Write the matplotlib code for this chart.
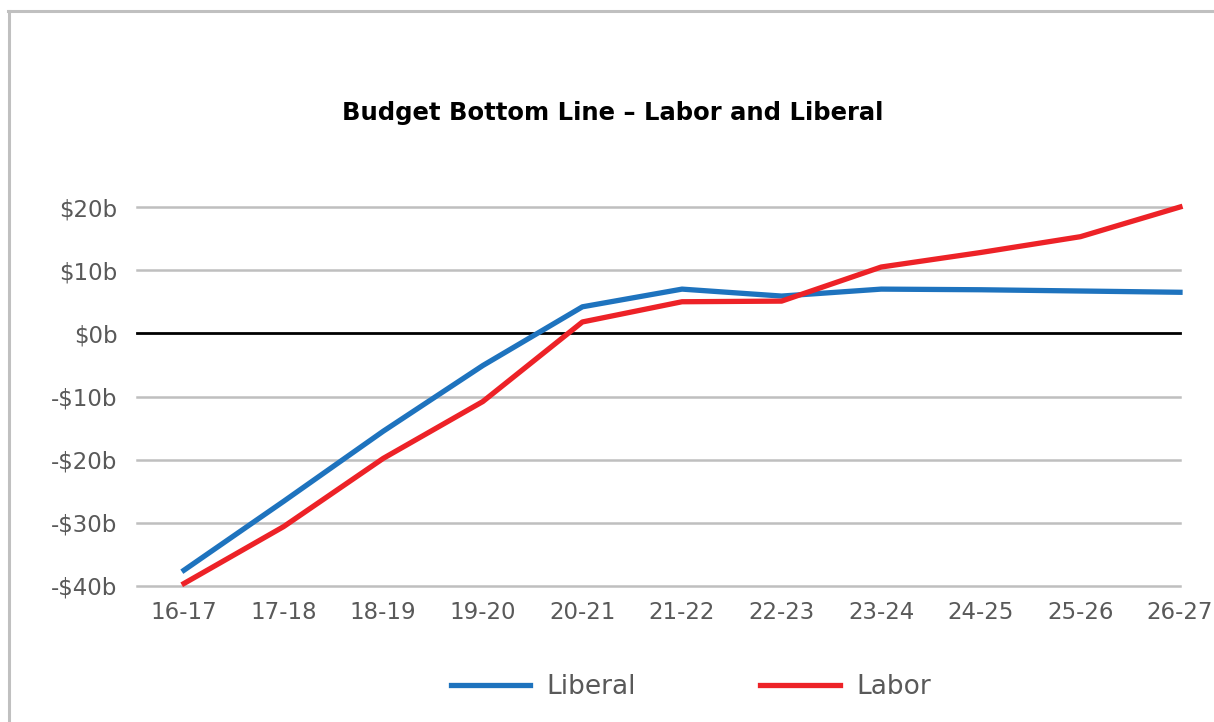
import matplotlib.pyplot as plt
from matplotlib.lines import Line2D

# Data ($ billions)
years = ["16-17", "17-18", "18-19", "19-20", "20-21", "21-22",
         "22-23", "23-24", "24-25", "25-26", "26-27"]
liberal = [-37.5, -26.6, -15.5, -5.1, 4.2, 7.0, 5.9, 7.0, 6.9, 6.7, 6.5]
labor = [-39.6, -30.6, -19.8, -10.8, 1.8, 5.0, 5.1, 10.5, 12.8, 15.3, 20.0]
y_ticks = [-40, -30, -20, -10, 0, 10, 20]

plt.rcParams["font.family"] = ["DejaVu Sans"]

fig = plt.figure(figsize=(12.14, 7.22), dpi=100)
ax = fig.add_axes([137 / 1214, 1 - 586 / 722, (1180 - 137) / 1214, (586 - 207) / 722])

x = list(range(len(years)))
ax.plot(x, liberal, color="#1E73BE", lw=3.8, label="Liberal", zorder=3, clip_on=False)
ax.plot(x, labor, color="#ED2227", lw=3.8, label="Labor", zorder=3, clip_on=False)

ax.set_xlim(-0.472, 10)
ax.set_ylim(-40, 20)
ax.set_yticks(y_ticks)
ax.set_yticklabels([f"${v}b" if v >= 0 else f"-${-v}b" for v in y_ticks])
ax.set_xticks(x)
ax.set_xticklabels(years)

for v in y_ticks:
    if v == 0:
        ax.axhline(0, color="black", lw=2.0, zorder=2, clip_on=False)
    else:
        ax.axhline(v, color="#BFBFBF", lw=1.8, zorder=1, clip_on=False)

for s in ax.spines.values():
    s.set_visible(False)
ax.tick_params(length=0, labelsize=16.5, labelcolor="#595959")
ax.tick_params(axis="y", pad=14)
ax.tick_params(axis="x", pad=11)

fig.text(0.505, 1 - 113 / 722, "Budget Bottom Line \u2013 Labor and Liberal",
         ha="center", va="center", fontsize=17.5, fontweight="bold", color="black")

fig.legend(loc="center", bbox_to_anchor=(691 / 1214, 1 - 687 / 722), ncol=2,
           frameon=False, fontsize=19, handlelength=3.0, handletextpad=0.63,
           columnspacing=4.7, labelcolor="#595959")

# outer chart frame (left and top edges visible)
fig.add_artist(Line2D([9 / 1214, 9 / 1214], [0, 1 - 11 / 722],
                      transform=fig.transFigure, color="#C0C0C0", lw=2.2))
fig.add_artist(Line2D([8 / 1214, 1], [1 - 11 / 722, 1 - 11 / 722],
                      transform=fig.transFigure, color="#C0C0C0", lw=2.2))

fig.savefig("out.png", dpi=100)
